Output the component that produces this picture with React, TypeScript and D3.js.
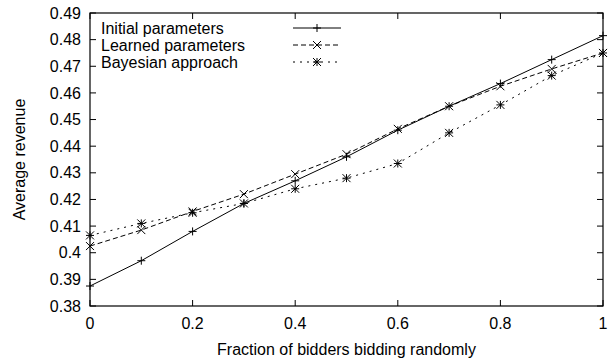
import React from "react";
import * as d3 from "d3";

const xValues = [0, 0.1, 0.2, 0.3, 0.4, 0.5, 0.6, 0.7, 0.8, 0.9, 1.0];
const initialParams = [0.3875, 0.397, 0.408, 0.4185, 0.427, 0.436, 0.446, 0.455, 0.4635, 0.4725, 0.4815];
const learnedParams = [0.4025, 0.4085, 0.4155, 0.422, 0.4295, 0.437, 0.4465, 0.455, 0.4625, 0.469, 0.475];
const bayesian = [0.4065, 0.411, 0.415, 0.4185, 0.424, 0.428, 0.4335, 0.445, 0.4555, 0.4665, 0.475];
const seriesNames = ["Initial parameters", "Learned parameters", "Bayesian approach"];
const xTicks = [0, 0.2, 0.4, 0.6, 0.8, 1];
const yTicks = [0.38, 0.39, 0.4, 0.41, 0.42, 0.43, 0.44, 0.45, 0.46, 0.47, 0.48, 0.49];

const W = 613, H = 360;
const L = 90, R = 603, T = 13, B = 306;
const FONT = "'Liberation Sans', Arial, Helvetica, sans-serif";
const FS = 16;

function Marker({ kind, x, y }: { kind: string; x: number; y: number }) {
  const s = 4;
  const plus = <path d={`M${x - s},${y}H${x + s}M${x},${y - s}V${y + s}`} stroke="#000" strokeWidth={1} />;
  const cross = <path d={`M${x - s},${y - s}L${x + s},${y + s}M${x - s},${y + s}L${x + s},${y - s}`} stroke="#000" strokeWidth={1} />;
  if (kind === "plus") return plus;
  if (kind === "cross") return cross;
  return <g>{plus}{cross}</g>;
}

export default function App() {
  const x = d3.scaleLinear().domain([0, 1]).range([L, R]);
  const y = d3.scaleLinear().domain([0.38, 0.49]).range([B, T]);
  const series = [
    { name: seriesNames[0], values: initialParams, dash: "none", marker: "plus" },
    { name: seriesNames[1], values: learnedParams, dash: "5,3", marker: "cross" },
    { name: seriesNames[2], values: bayesian, dash: "2,5", marker: "star" },
  ];
  const line = d3.line<number>().x((_, i) => x(xValues[i])).y((d) => y(d));
  const tl = 6;
  return (
    <svg width={W} height={H} style={{ position: "absolute", left: 0, top: 0, background: "#fff" }} fontFamily={FONT}>
      <rect x={0} y={0} width={W} height={H} fill="#fff" />
      {yTicks.map((t) => (
        <g key={"y" + t}>
          <path d={`M${L},${y(t)}h${tl}M${R},${y(t)}h${-tl}`} stroke="#000" />
          <text x={L - 9} y={y(t)} dy="0.35em" textAnchor="end" fontSize={FS}>{String(+t.toFixed(2))}</text>
        </g>
      ))}
      {xTicks.map((t) => (
        <g key={"x" + t}>
          <path d={`M${x(t)},${B}v${-tl}M${x(t)},${T}v${tl}`} stroke="#000" />
          <text x={x(t)} y={B + 23} textAnchor="middle" fontSize={FS}>{String(t)}</text>
        </g>
      ))}
      <rect x={L} y={T} width={R - L} height={B - T} fill="none" stroke="#000" strokeWidth={1.2} />
      <text x={(L + R) / 2} y={355} textAnchor="middle" fontSize={FS}>Fraction of bidders bidding randomly</text>
      <text transform={`translate(25,${(T + B) / 2}) rotate(-90)`} textAnchor="middle" fontSize={FS}>Average revenue</text>
      {series.map((s) => (
        <g key={s.name}>
          <path d={line(s.values) || ""} fill="none" stroke="#000" strokeWidth={1} strokeDasharray={s.dash} />
          {s.values.map((v, i) => (
            <Marker key={i} kind={s.marker} x={x(xValues[i])} y={y(v)} />
          ))}
        </g>
      ))}
      {series.map((s, i) => {
        const ly = 28 + i * 17;
        return (
          <g key={"leg" + i}>
            <text x={101} y={ly} dy="0.35em" fontSize={FS}>{s.name}</text>
            <path d={`M293,${ly}H341`} stroke="#000" strokeDasharray={s.dash} />
            <Marker kind={s.marker} x={317} y={ly} />
          </g>
        );
      })}
    </svg>
  );
}
